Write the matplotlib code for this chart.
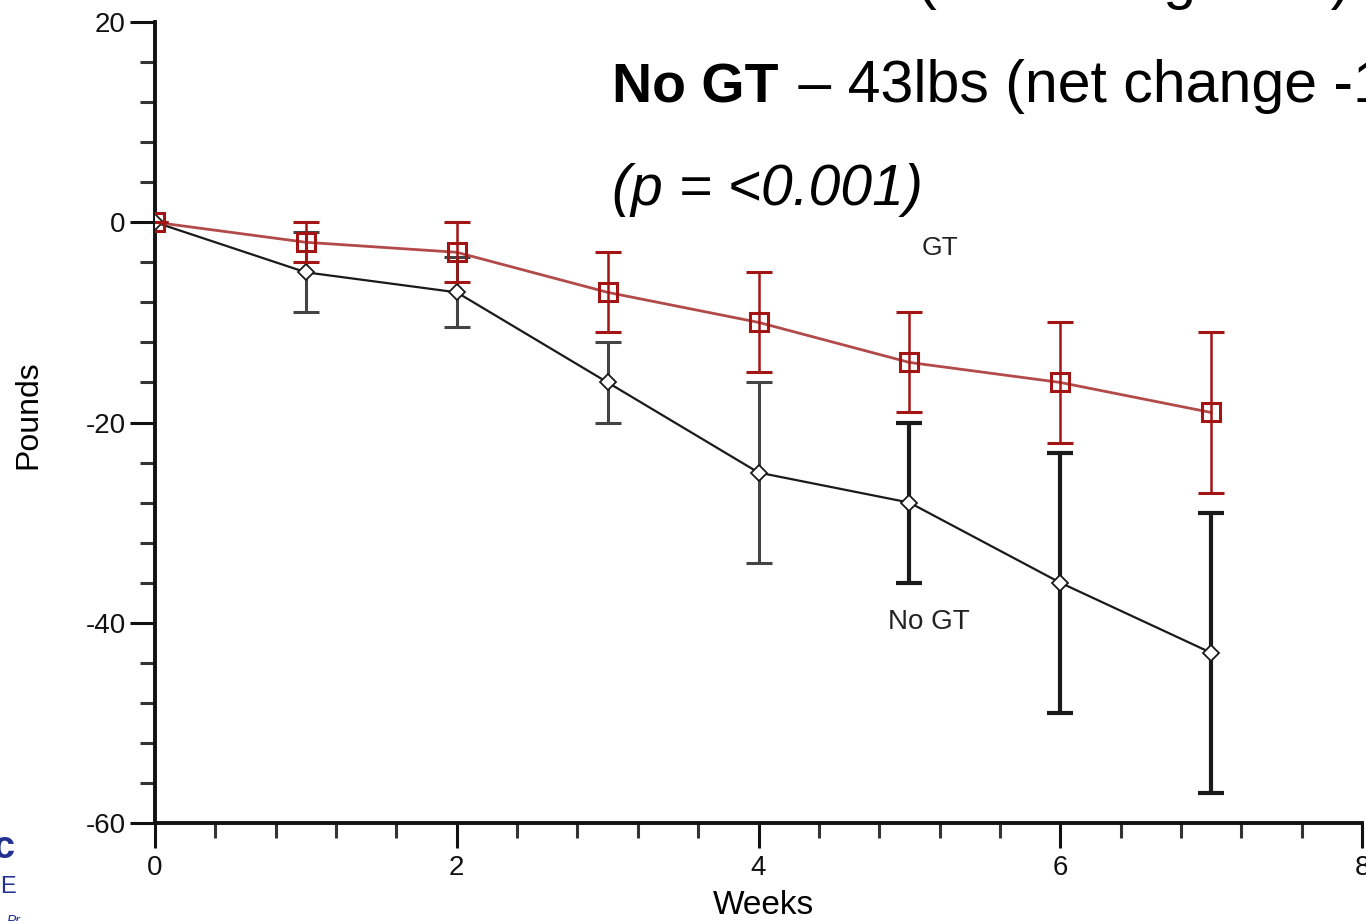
import matplotlib
matplotlib.use("Agg")
import matplotlib.pyplot as plt
from matplotlib.ticker import MultipleLocator

weeks = [0, 1, 2, 3, 4, 5, 6, 7]
gt_mean = [0, -2, -3, -7, -10, -14, -16, -19]
gt_err = [0, 2, 3, 4, 5, 5, 6, 8]
nogt_mean = [0, -5, -7, -16, -25, -28, -36, -43]
nogt_err = [0, 4, 3.5, 4, 9, 8, 13, 14]
x_ticks = [0, 2, 4, 6, 8]
y_ticks = [20, 0, -20, -40, -60]

plt.rcParams['font.family'] = ['Liberation Sans', 'DejaVu Sans']
plt.rcParams['axes.unicode_minus'] = False

W, H = 1366, 921
fig = plt.figure(figsize=(W / 100, H / 100), dpi=100)
fig.patch.set_facecolor('white')

left, right, bottom, top = 155 / W, 1362 / W, 1 - 823 / H, 1 - 22 / H
ax = fig.add_axes([left, bottom, right - left, top - bottom])
ax.set_xlim(0, 8)
ax.set_ylim(-60, 20)

red = '#a31515'
redline = '#b24a4a'
black = '#1a1a1a'

# No GT series
ax.plot(weeks, nogt_mean, color=black, lw=1.6, zorder=3)
for w, m, e in zip(weeks, nogt_mean, nogt_err):
    if e == 0:
        continue
    lw = 3.0 if w >= 5 else 2.2
    ax.errorbar([w], [m], yerr=[e], fmt='none', ecolor=black if w >= 5 else '#444444',
                elinewidth=lw, capsize=9.5, capthick=lw, zorder=2)
ax.plot(weeks, nogt_mean, linestyle='none', marker='D', ms=8, mfc='white',
        mec=black, mew=1.3, zorder=4)

# GT series
ax.plot(weeks, gt_mean, color=redline, lw=2.0, zorder=5)
ax.errorbar(weeks, gt_mean, yerr=gt_err, fmt='none', ecolor=red, elinewidth=1.8,
            capsize=9.5, capthick=2.2, zorder=5)
ax.plot(weeks, gt_mean, linestyle='none', marker='s', ms=13, mfc='none',
        mec=red, mew=2.2, zorder=6)

# axes styling
for s in ['top', 'right']:
    ax.spines[s].set_visible(False)
for s in ['left', 'bottom']:
    ax.spines[s].set_linewidth(2.8)
    ax.spines[s].set_color('#111111')
ax.set_xticks(x_ticks)
ax.set_yticks(y_ticks)
ax.xaxis.set_minor_locator(MultipleLocator(0.4))
ax.yaxis.set_minor_locator(MultipleLocator(4))
ax.tick_params(axis='both', which='major', direction='out', length=18, width=2.2,
               labelsize=20, colors='#111111')
ax.tick_params(axis='both', which='minor', direction='out', length=11, width=2.2,
               colors='#333333')
ax.tick_params(axis='x', which='major', pad=5)
ax.tick_params(axis='y', which='major', pad=3)
ax.set_ylabel('Pounds', fontsize=23, va='center')
ax.yaxis.set_label_coords((28 - 155) / 1207, (823 - 415) / 801)
ax.set_xlabel('Weeks', fontsize=24, va='center')
ax.xaxis.set_label_coords((763 - 155) / 1207, (823 - 905) / 801)

# series labels
ax.text(5.2, -2.6, 'GT', fontsize=19, ha='center', va='center', color='#222222')
ax.text(5.13, -39.9, 'No GT', fontsize=20, ha='center', va='center', color='#222222')

# slide text
def fx(px):
    return px / W

def fy(py):
    return 1 - py / H

fig.canvas.draw()
t0 = fig.text(fx(612), fy(-2), 'GT', fontsize=40, fontweight='bold', va='baseline')
fig.canvas.draw()
b0 = t0.get_window_extent()
fig.text((b0.x1 + 5) / W, fy(-2), ' – 19lbs (net change -24)', fontsize=42.5, va='baseline')

t1 = fig.text(fx(612), fy(102), 'No GT', fontsize=40, fontweight='bold', va='baseline')
fig.canvas.draw()
bb = t1.get_window_extent()
fig.text((bb.x1 + 3) / W, fy(102), ' – 43lbs (net change -19lbs)', fontsize=42.5, va='baseline')
fig.text(fx(612), fy(205), '(p = <0.001)', fontsize=41, style='italic', va='baseline')

# logo fragments at bottom left
fig.text(fx(16), fy(858), 'Inc', fontsize=28, fontweight='bold', color='#22308f', ha='right', va='baseline')
fig.text(fx(0), fy(893), 'E', fontsize=17, color='#22308f', ha='left', va='baseline')
fig.text(fx(20), fy(925), 'Pr', fontsize=10, style='italic', color='#22308f', ha='right', va='baseline')

fig.savefig('out.png', dpi=100, facecolor='white')
